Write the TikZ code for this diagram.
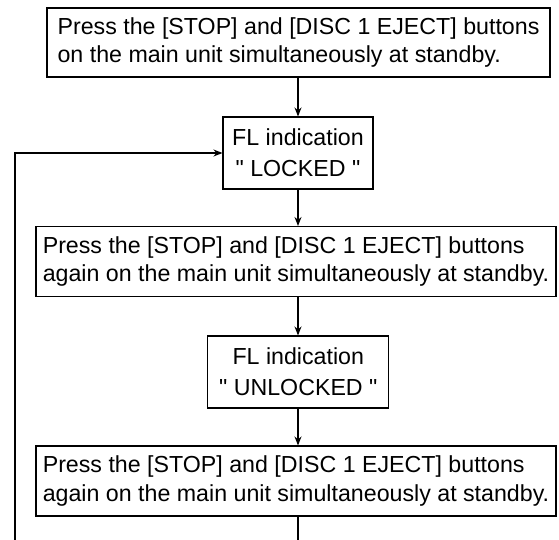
\documentclass[tikz,border=0pt]{standalone}
\usepackage{fontspec}
\newfontfamily\arialf{Liberation Sans}
\usetikzlibrary{arrows.meta}
\begin{document}
\begin{tikzpicture}[x=1pt,y=-1pt,
  box/.style={draw,line width=1.1pt,inner sep=0pt,align=left,font=\arialf\fontsize{23.2}{28.5}\selectfont},
  cbox/.style={draw,line width=1.1pt,inner sep=0pt,align=center,font=\arialf\fontsize{23.2}{31}\selectfont},
  arr/.style={line width=1.1pt,-{Stealth[length=9pt,width=7pt]}}]
\useasboundingbox (0,0) rectangle (559,540);
\node[box,minimum width=503pt,minimum height=69pt] (b1) at (298.5,42.5) {Press the [STOP] and [DISC 1 EJECT] buttons\\on the main unit simultaneously at standby.};
\node[cbox,minimum width=150pt,minimum height=72pt] (lk) at (298,153) {FL indication\\" LOCKED "};
\node[box,minimum width=520pt,minimum height=70pt] (b2) at (296,261.5) {Press the [STOP] and [DISC 1 EJECT] buttons\\again on the main unit simultaneously at standby.};
\node[cbox,minimum width=181pt,minimum height=72pt] (ul) at (298.3,372) {FL indication\\" UNLOCKED "};
\node[box,minimum width=520pt,minimum height=70pt] (b3) at (296,481) {Press the [STOP] and [DISC 1 EJECT] buttons\\again on the main unit simultaneously at standby.};
\coordinate (corner) at (15,570);
\draw[arr] (lk.north |- b1.south) -- (lk.north);
\draw[arr] (lk.south) -- (lk.south |- b2.north);
\draw[arr] (lk.south |- b2.south) -- (lk.south |- ul.north);
\draw[arr] (lk.south |- ul.south) -- (lk.south |- b3.north);
\draw[arr] (lk.south |- b3.south) -- (lk.south |- corner) -- (corner) |- (lk.west);
\end{tikzpicture}
\end{document}
